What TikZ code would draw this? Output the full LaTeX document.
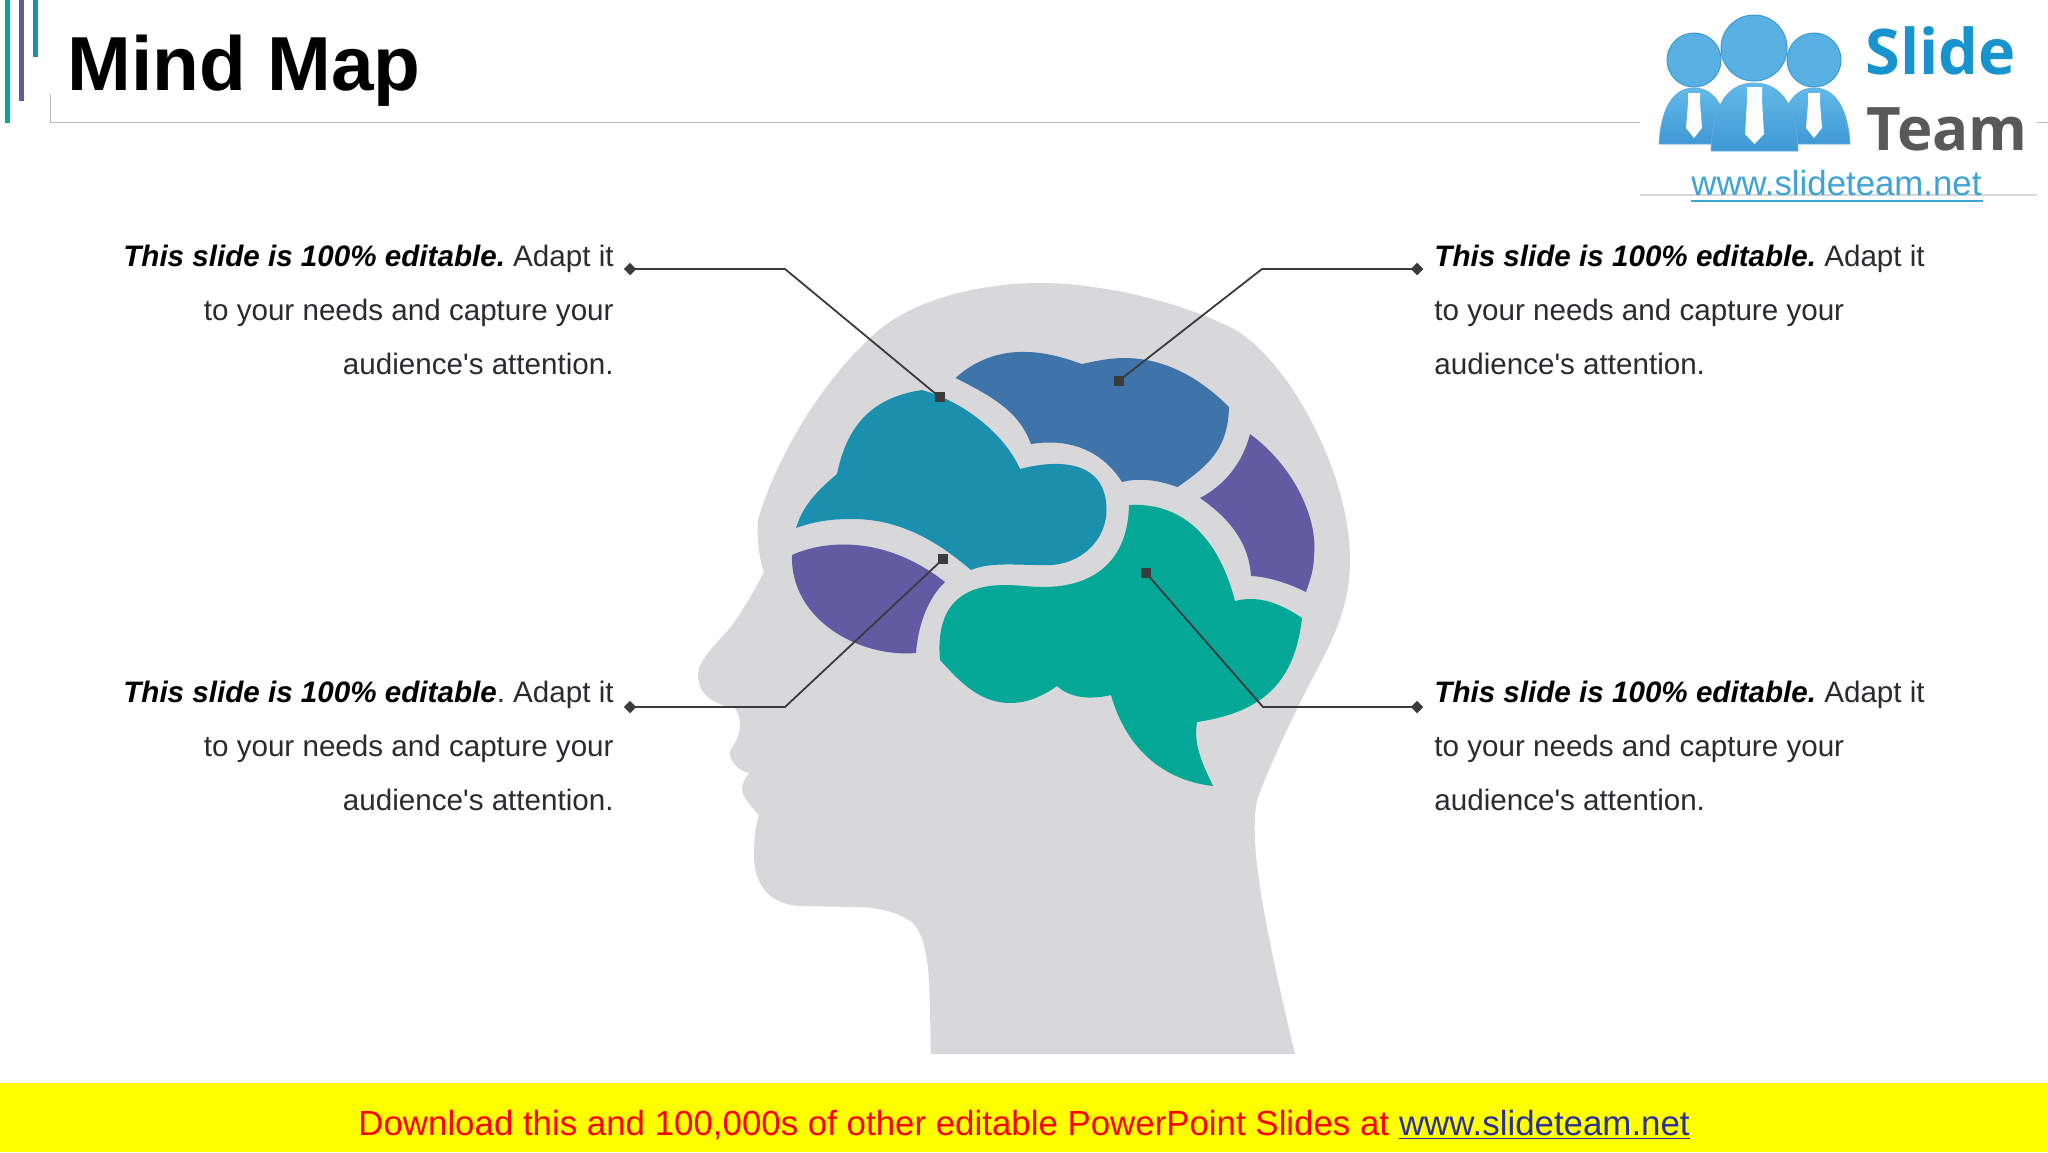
\documentclass[tikz,border=0pt]{standalone}
\usepackage{fontspec}
\setmainfont{Liberation Sans}
\newfontfamily\plainfont{Liberation Sans}
\newfontfamily\logofont{Open Sans}
\usetikzlibrary{shapes.geometric}
\definecolor{headgray}{HTML}{D8D7DA}
\definecolor{cgreen}{HTML}{05A796}
\definecolor{cpurple}{HTML}{625BA3}
\definecolor{cteal}{HTML}{1A90AE}
\definecolor{cblue}{HTML}{3F74AB}
\definecolor{cdark}{HTML}{3B3B3B}
\definecolor{ctext}{HTML}{2B2B2F}
\definecolor{crule}{HTML}{BDBDBD}
\definecolor{logolight}{HTML}{62BAEA}
\definecolor{logodeep}{HTML}{3F98D4}
\definecolor{logoslide}{HTML}{1793CE}
\definecolor{logourl}{HTML}{3FA3D6}
\definecolor{linkblue}{HTML}{2B2F96}
\definecolor{footyellow}{RGB}{255,255,0}
\definecolor{footred}{RGB}{255,0,0}
\tikzset{
  sq/.style={draw=none,fill=cdark,rectangle,minimum size=5pt,inner sep=0pt},
  dia/.style={draw=none,fill=cdark,diamond,minimum size=6.4pt,inner sep=0pt},
  conn/.style={draw=cdark,line width=0.9pt,line join=miter},
  body/.style={inner sep=0pt,font=\frenchspacing\fontsize{14.8}{26.85}\selectfont,text=ctext},
  bar/.style={line width=2.6pt},
  logobody/.style={top color=logolight,bottom color=logodeep,draw=logodeep!80,line width=0.4pt},
  logohead/.style={fill=logolight!70!logodeep,draw=logodeep,line width=0.5pt,circle,inner sep=0pt},
  tie/.style={fill=white}
}
\newcommand{\lead}[1]{{\itshape\bfseries\color{black}#1}}
\newcommand{\aud}{audience{\plainfont '}s attention.}
\begin{document}
\begin{tikzpicture}[x=0.5pt,y=-0.5pt]
\useasboundingbox (0,0) rectangle (2048,1152);
\fill[white] (0,0) rectangle (2048,1152);

% title furniture
\draw[bar,cgreen] (7.5,0) -- (7.5,123);
\draw[bar,cpurple] (21.5,0) -- (21.5,101);
\draw[bar,cteal] (35.5,0) -- (35.5,57);
\draw[crule,line width=0.7pt] (50.5,94) -- (50.5,122.5) -- (1640,122.5);
\draw[crule,line width=0.7pt] (2037,122.5) -- (2048,122.5);
\node[anchor=base west,inner sep=0pt,font=\fontsize{38.3}{44}\selectfont\bfseries] (title) at (67,90) {Mind Map};

% logo
\draw[crule!60,line width=0.6pt] (1640,195) -- (2037,195);
\draw[logobody] (1659,144) .. controls (1661,110) and (1672,88) .. (1694,88) .. controls (1716,88) and (1727,110) .. (1729,144) -- cycle;
\draw[logobody] (1779,144) .. controls (1781,110) and (1792,88) .. (1814,88) .. controls (1836,88) and (1848,110) .. (1850,144) -- cycle;
\draw[logobody] (1711,151) .. controls (1712,110) and (1725,83) .. (1754,83) .. controls (1784,83) and (1797,110) .. (1798,151) -- cycle;
\node[logohead,minimum size=27pt] (lh1) at (1694,60) {};
\node[logohead,minimum size=27pt] (lh3) at (1814,60) {};
\node[logohead,minimum size=33pt] (lh2) at (1754,48) {};
\fill[tie] (1688,93) -- (1700,93) -- (1700,103) -- (1702,128) -- (1694,138) -- (1686,128) -- (1688,103) -- cycle;
\fill[tie] (1808,93) -- (1820,93) -- (1820,103) -- (1822,128) -- (1814,138) -- (1806,128) -- (1808,103) -- cycle;
\fill[tie] (1747,87) -- (1762,87) -- (1762,100) -- (1764,134) -- (1754.5,144) -- (1745,134) -- (1747,100) -- cycle;
\node[anchor=base west,inner sep=0pt,text=logoslide,font=\logofont\bfseries\fontsize{31.5}{36}\selectfont] (slide) at (1865,74) {Slide};
\node[anchor=base west,inner sep=0pt,text=black!65,font=\logofont\bfseries\fontsize{30}{36}\selectfont] (team) at (1866,150) {Team};
\node[anchor=base west,inner sep=0pt,text=logourl,font=\fontsize{17.4}{20}\selectfont] (url) at (1691,195) {www.slideteam.net};
\draw[logourl,line width=1pt] (url.base west)++(0,5.5) -- ++(292,0);

% head
\fill[headgray]
  (931,1054) .. controls (929,990) and (932,945) .. (913,923)
  .. controls (900,913) and (880,907) .. (855,907) -- (800,906)
  .. controls (775,905) and (754,890) .. (754,855)
  .. controls (754,840) and (755,828) .. (759,815)
  .. controls (750,805) and (741,795) .. (742,788)
  .. controls (743,782) and (746,777) .. (749,773)
  .. controls (738,771) and (729,760) .. (730,752)
  .. controls (731,747) and (740,740) .. (740,725)
  .. controls (740,718) and (738,713) .. (735,708)
  .. controls (715,705) and (697,695) .. (698,673)
  .. controls (699,660) and (715,645) .. (730,628)
  .. controls (740,615) and (755,590) .. (764,572)
  .. controls (758,555) and (757,535) .. (758,520)
  .. controls (772,470) and (815,385) .. (879,330)
  .. controls (915,300) and (980,282) .. (1046,283)
  .. controls (1100,284) and (1175,300) .. (1230,327)
  .. controls (1285,354) and (1350,470) .. (1350,560)
  .. controls (1350,610) and (1330,645) .. (1310,683)
  .. controls (1290,722) and (1270,765) .. (1257,800)
  .. controls (1250,840) and (1258,900) .. (1295,1054)
  -- cycle;

% brain
\fill[cblue]
  (955.5,378) .. controls (975,360) and (1000,351) .. (1026,352)
  .. controls (1045,352) and (1065,358) .. (1082,364)
  .. controls (1100,360) and (1112,358) .. (1124,358)
  .. controls (1165,358) and (1200,378) .. (1229,407)
  .. controls (1228,445) and (1213,463) .. (1177.5,487)
  .. controls (1160,481) and (1142,477) .. (1122,482)
  .. controls (1105,455) and (1075,437) .. (1031,444)
  .. controls (1020,415) and (1000,400) .. (955.5,378)
  -- cycle;
\fill[cteal]
  (796,528) .. controls (803,505) and (818,490) .. (837,474)
  .. controls (846,430) and (868,398) .. (922,390)
  .. controls (965,402) and (1005,435) .. (1020,469)
  .. controls (1062,458) and (1106.5,462) .. (1106.5,510)
  .. controls (1106.5,540) and (1080,568) .. (1040,565)
  .. controls (1015,565) and (990,562) .. (971,570)
  .. controls (945,548) and (905,518) .. (850,519)
  .. controls (830,519) and (812,522) .. (796,528)
  -- cycle;
\fill[cpurple]
  (1250,434) .. controls (1295,467) and (1318,520) .. (1314,555)
  .. controls (1314,570) and (1310,580) .. (1306,592)
  .. controls (1290,584) and (1270,577) .. (1251,576)
  .. controls (1249,545) and (1232,520) .. (1200,498)
  .. controls (1225,485) and (1243,462) .. (1250,434)
  -- cycle;
\fill[cpurple]
  (792,555) .. controls (825,540) and (885,535) .. (945,582)
  .. controls (928,598) and (918,625) .. (916,653)
  .. controls (860,658) and (790,620) .. (792,555)
  -- cycle;
\fill[cgreen]
  (1129,505) .. controls (1150,504) and (1210,505) .. (1235,601)
  .. controls (1258,595) and (1280,603) .. (1302,618)
  .. controls (1295,680) and (1265,712) .. (1197,722)
  .. controls (1193,745) and (1203,765) .. (1213,786)
  .. controls (1160,780) and (1125,745) .. (1111,695)
  .. controls (1090,700) and (1070,698) .. (1057,686)
  .. controls (1040,698) and (1025,703) .. (1010,703)
  .. controls (980,703) and (960,682) .. (940,660)
  .. controls (937,625) and (945,585) .. (1005,585)
  .. controls (1020,585) and (1030,587) .. (1043,587)
  .. controls (1095,587) and (1128,560) .. (1129,505)
  -- cycle;

% connectors
\node[dia] (d1) at (630,269) {};
\node[dia] (d2) at (1417,269) {};
\node[dia] (d3) at (630,707) {};
\node[dia] (d4) at (1417,707) {};
\node[sq] (s1) at (939.5,397) {};
\node[sq] (s2) at (1118.5,381) {};
\node[sq] (s3) at (943,559) {};
\node[sq] (s4) at (1146,573) {};
\coordinate (e1) at (785,269);
\coordinate (e2) at (1262,269);
\coordinate (e3) at (785,707);
\coordinate (e4) at (1263,707);
\draw[conn] (d1.center) -- (e1) -- (s1.center);
\draw[conn] (d2.center) -- (e2) -- (s2.center);
\draw[conn] (d3.center) -- (e3) -- (s3.center);
\draw[conn] (d4.center) -- (e4) -- (s4.center);

% texts (the base anchor of a multi-line node is its last line)
\node[body,anchor=base east,align=right] (t1) at (614,374) {\lead{This slide is 100\% editable.} Adapt it\\to your needs and capture your\\\aud};
\node[body,anchor=base west,align=left] (t2) at (1434,374) {\lead{This slide is 100\% editable.} Adapt it\\to your needs and capture your\\\aud};
\node[body,anchor=base east,align=right] (t3) at (614,810) {\lead{This slide is 100\% editable}. Adapt it\\to your needs and capture your\\\aud};
\node[body,anchor=base west,align=left] (t4) at (1434,810) {\lead{This slide is 100\% editable.} Adapt it\\to your needs and capture your\\\aud};

% footer
\fill[footyellow] (0,1083) rectangle (2048,1152);
\node[anchor=base west,inner sep=0pt,font=\fontsize{17.43}{20}\selectfont] (foot) at (358,1135) {\textcolor{footred}{Download this and 100,000s of other editable PowerPoint Slides at} \textcolor{linkblue}{\underline{www.slideteam.net}}};
\end{tikzpicture}
\end{document}
